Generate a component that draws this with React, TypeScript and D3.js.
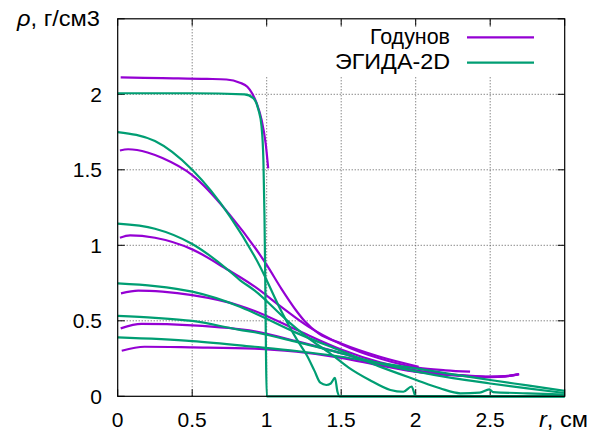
import React from "react";
import * as d3 from "d3";

// ---- data (x in cm, rho in g/cm3) ----
const X_TICKS = [0, 0.5, 1, 1.5, 2, 2.5];
const Y_TICKS = [0, 0.5, 1, 1.5, 2];
const SERIES_NAMES = ["Годунов", "ЭГИДА-2D"];

const godunov1: [number, number][] = [
  [0.02, 2.112], [0.3, 2.107], [0.6, 2.102], [0.73, 2.098], [0.82, 2.077], [0.87, 2.05],
  [0.9, 2.01], [0.933, 1.94], [0.966, 1.83], [0.993, 1.675], [1.01, 1.51],
];
const godunov2: [number, number][] = [
  [0.015, 1.628], [0.07, 1.636], [0.2, 1.615], [0.3, 1.578], [0.5, 1.465], [0.754, 1.2],
  [1.0, 0.87], [1.1, 0.71], [1.2, 0.565], [1.257, 0.495], [1.35, 0.415], [1.5, 0.35],
  [1.76, 0.262], [2.02, 0.196],
];
const godunov3: [number, number][] = [
  [0.015, 1.05], [0.083, 1.066], [0.25, 1.05], [0.5, 0.973], [0.742, 0.836], [0.82, 0.79],
  [0.92, 0.726], [1.1, 0.59], [1.28, 0.461], [1.5, 0.345], [1.76, 0.25], [2.02, 0.188],
  [2.2, 0.172], [2.365, 0.163],
];
const godunov4: [number, number][] = [
  [0.022, 0.682], [0.138, 0.7], [0.3, 0.693], [0.5, 0.67], [0.82, 0.6], [0.92, 0.565],
  [1.2, 0.44], [1.5, 0.31], [1.76, 0.225], [2.02, 0.168], [2.3, 0.14], [2.5, 0.13],
  [2.6, 0.133], [2.695, 0.147],
];
const godunov5: [number, number][] = [
  [0.02, 0.45], [0.16, 0.479], [0.5, 0.47], [0.92, 0.43], [1.2, 0.365], [1.5, 0.285],
  [1.76, 0.212], [2.02, 0.162], [2.3, 0.138], [2.5, 0.128], [2.6, 0.132], [2.69, 0.146],
];
const godunov6: [number, number][] = [
  [0.027, 0.302], [0.18, 0.328], [0.5, 0.324], [0.92, 0.316], [1.2, 0.295], [1.5, 0.255],
  [1.76, 0.205], [2.02, 0.16], [2.3, 0.137], [2.5, 0.127], [2.6, 0.131], [2.69, 0.145],
];

const egida1: [number, number][] = [
  [0, 2.007], [0.5, 2.007], [0.85, 2.0], [0.91, 1.975], [0.944, 1.9], [0.965, 1.79],
  [0.978, 1.56], [0.985, 1.2], [0.99, 0.8], [0.995, 0.3], [1.0, 0], [3.0, 0],
];
const egida2: [number, number][] = [
  [0, 1.75], [0.25, 1.69], [0.5, 1.5], [0.754, 1.19], [0.955, 0.86], [1.1, 0.56],
  [1.2, 0.38], [1.27, 0.27], [1.32, 0.17], [1.36, 0.09], [1.4, 0.075], [1.43, 0.085],
  [1.458, 0.122], [1.475, 0.03], [1.49, 0], [3.0, 0],
];
const egida3: [number, number][] = [
  [0, 1.143], [0.25, 1.11], [0.5, 1.009], [0.742, 0.836], [0.82, 0.77], [0.92, 0.7],
  [1.134, 0.505], [1.3, 0.37], [1.425, 0.285], [1.55, 0.19], [1.69, 0.108], [1.83, 0.042],
  [1.917, 0.03], [1.973, 0.065], [2.0, 0], [3.0, 0],
];
const egida4: [number, number][] = [
  [0, 0.748], [0.25, 0.73], [0.5, 0.693], [0.82, 0.593], [0.92, 0.55], [1.2, 0.42],
  [1.5, 0.3], [1.75, 0.2], [2.0, 0.11], [2.163, 0.053], [2.3, 0.02], [2.43, 0.024],
  [2.494, 0.046], [2.52, 0.028], [2.75, 0.02], [3.0, 0.012],
];
const egida5: [number, number][] = [
  [0, 0.532], [0.25, 0.52], [0.5, 0.499], [0.82, 0.44], [0.92, 0.424], [1.2, 0.36],
  [1.5, 0.285], [1.75, 0.22], [2.0, 0.165], [2.25, 0.12], [2.5, 0.085], [2.75, 0.052],
  [3.0, 0.022],
];
const egida6: [number, number][] = [
  [0, 0.39], [0.5, 0.366], [0.92, 0.328], [1.2, 0.3], [1.5, 0.262], [1.75, 0.222],
  [2.0, 0.185], [2.25, 0.145], [2.5, 0.108], [2.75, 0.072], [3.0, 0.036],
];

const GODUNOV = [godunov1, godunov2, godunov3, godunov4, godunov5, godunov6];
const EGIDA = [egida1, egida2, egida3, egida4, egida5, egida6];

const W = 592;
const H = 435;
const LEFT = 117.7;
const RIGHT = 564.7;
const TOP = 18.8;
const BOTTOM = 396.3;
const PURPLE = "#9400d3";
const GREEN = "#009e73";
const FONT = "'Liberation Sans', Arial, sans-serif";

export default function App() {
  const x = d3.scaleLinear().domain([0, 3]).range([LEFT, RIGHT]);
  const y = d3.scaleLinear().domain([0, 2.5]).range([BOTTOM, TOP]);
  const line = d3
    .line<[number, number]>()
    .x((d) => x(d[0]))
    .y((d) => y(d[1]))
    .curve(d3.curveMonotoneX);

  const gridX = X_TICKS.filter((v) => v > 0);
  const gridY = Y_TICKS.filter((v) => v > 0);
  const tickLen = 7;

  return (
    <svg
      width={W}
      height={H}
      style={{ position: "absolute", left: 0, top: 0, background: "#fff" }}
      fontFamily={FONT}
    >
      <rect x={0} y={0} width={W} height={H} fill="#fff" />
      {/* grid */}
      {gridX.map((v) => (
        <line key={"gx" + v} x1={x(v)} x2={x(v)} y1={BOTTOM} y2={TOP}
          stroke="#555" strokeWidth={1} strokeDasharray="1,2" />
      ))}
      {gridY.map((v) => (
        <line key={"gy" + v} x1={LEFT} x2={RIGHT} y1={y(v)} y2={y(v)}
          stroke="#555" strokeWidth={1} strokeDasharray="1,2" />
      ))}
      {/* opaque key box */}
      <rect x={245} y={27} width={RIGHT - 245 - 1} height={50} fill="#fff" />
      {/* ticks */}
      {[...X_TICKS, 3].map((v) => (
        <g key={"tx" + v}>
          <line x1={x(v)} x2={x(v)} y1={BOTTOM} y2={BOTTOM - tickLen} stroke="#000" />
          <line x1={x(v)} x2={x(v)} y1={TOP} y2={TOP + tickLen} stroke="#000" />
        </g>
      ))}
      {[...Y_TICKS, 2.5].map((v) => (
        <g key={"ty" + v}>
          <line x1={LEFT} x2={LEFT + tickLen} y1={y(v)} y2={y(v)} stroke="#000" />
          <line x1={RIGHT} x2={RIGHT - tickLen} y1={y(v)} y2={y(v)} stroke="#000" />
        </g>
      ))}
      {/* tick labels */}
      {X_TICKS.map((v) => (
        <text key={"lx" + v} x={x(v)} y={426.5} textAnchor="middle" fontSize={21}>
          {String(v)}
        </text>
      ))}
      {Y_TICKS.map((v) => (
        <text key={"ly" + v} x={102} y={y(v) + 7.5} textAnchor="end" fontSize={21}>
          {String(v)}
        </text>
      ))}
      {/* axis labels */}
      <text x={17} y={26} fontSize={22} textLength={83} lengthAdjust="spacingAndGlyphs">
        <tspan fontStyle="italic">ρ</tspan>
        <tspan>, г/см3</tspan>
      </text>
      <text x={539} y={426.5} fontSize={22} textLength={49} lengthAdjust="spacingAndGlyphs">
        <tspan fontStyle="italic">r</tspan>
        <tspan>, см</tspan>
      </text>
      {/* series */}
      {GODUNOV.map((s, i) => (
        <path key={"g" + i} d={line(s) || ""} fill="none" stroke={PURPLE} strokeWidth={2.2} />
      ))}
      {EGIDA.map((s, i) => (
        <path key={"e" + i} d={line(s) || ""} fill="none" stroke={GREEN} strokeWidth={2.2} />
      ))}
      {/* border */}
      <rect x={LEFT} y={TOP} width={RIGHT - LEFT} height={BOTTOM - TOP}
        fill="none" stroke="#000" strokeWidth={1.2} />
      {/* legend */}
      <text x={450} y={43.5} textAnchor="end" fontSize={22.5} textLength={80} lengthAdjust="spacingAndGlyphs">{SERIES_NAMES[0]}</text>
      <line x1={467} x2={534} y1={37.3} y2={37.3} stroke={PURPLE} strokeWidth={2.2} />
      <text x={450} y={68.5} textAnchor="end" fontSize={22.5} textLength={115} lengthAdjust="spacingAndGlyphs">{SERIES_NAMES[1]}</text>
      <line x1={467} x2={534} y1={62.7} y2={62.7} stroke={GREEN} strokeWidth={2.2} />
    </svg>
  );
}
